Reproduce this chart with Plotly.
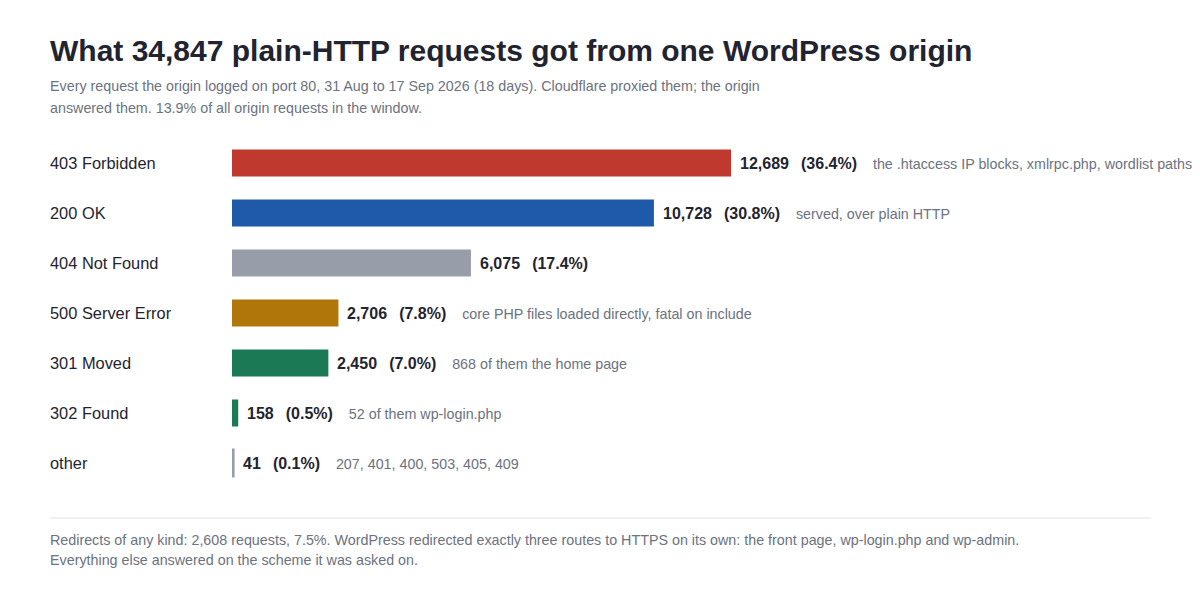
import plotly.graph_objects as go

categories = ["403 Forbidden", "200 OK", "404 Not Found", "500 Server Error",
              "301 Moved", "302 Found", "other"]
counts = [12689, 10728, 6075, 2706, 2450, 158, 41]
shares = ["36.4%", "30.8%", "17.4%", "7.8%", "7.0%", "0.5%", "0.1%"]
notes = ["the .htaccess IP blocks, xmlrpc.php, wordlist paths",
         "served, over plain HTTP",
         "",
         "core PHP files loaded directly, fatal on include",
         "868 of them the home page",
         "52 of them wp-login.php",
         "207, 401, 400, 503, 405, 409"]
colors = ["#c0392e", "#1f5aa8", "#979ea9", "#b0760a", "#1b7a55", "#1b7a55", "#979ea9"]

title = "What 34,847 plain-HTTP requests got from one WordPress origin"
subtitle1 = "Every request the origin logged on port 80, 31 Aug to 17 Sep 2026 (18 days). Cloudflare proxied them; the origin"
subtitle2 = "answered them. 13.9% of all origin requests in the window."
footer1 = "Redirects of any kind: 2,608 requests, 7.5%. WordPress redirected exactly three routes to HTTPS on its own: the front page, wp-login.php and wp-admin."
footer2 = "Everything else answered on the scheme it was asked on."

W, H = 1200, 600
OFF = 8  # page body margin
L, T = 232 - OFF, 138 - OFF
PW, PH = 958, 350
R = W - L - PW
B = H - T - PH
FONT = "Liberation Sans, Arial, sans-serif"
DARK = "#1f2430"
GREY = "#6b7280"

def px_x(x):
    return (x - OFF - L) / PW

def px_y(y):
    return (T + PH - (y - OFF)) / PH

line_w = [2 if c < 100 else 0 for c in counts]

fig = go.Figure(go.Bar(
    x=counts, y=categories, orientation="h",
    marker=dict(color=colors, line=dict(color=colors, width=line_w)),
    width=0.54, hoverinfo="skip",
))

ann = []
for cat, c, s, n in zip(categories, counts, shares, notes):
    txt = f"<b>{c:,}\u00a0\u00a0\u2009({s})</b>"
    if n:
        txt += f"<span style='font-size:14.3px;color:{GREY};font-weight:normal'>\u00a0\u00a0\u00a0\u00a0{n}</span>"
    ann.append(dict(x=c, y=cat, xref="x", yref="y", text=txt, showarrow=False,
                    xanchor="left", yanchor="middle", xshift=7,
                    font=dict(size=16, color=DARK, family=FONT)))
    ann.append(dict(x=px_x(48), y=cat, xref="paper", yref="y", text=cat,
                    showarrow=False, xanchor="left", yanchor="middle",
                    font=dict(size=16.4, color=DARK, family=FONT)))

ann += [
    dict(x=px_x(48), y=px_y(51), xref="paper", yref="paper", text=f"<b>{title}</b>",
         showarrow=False, xanchor="left", yanchor="middle",
         font=dict(size=30, color=DARK, family=FONT)),
    dict(x=px_x(48), y=px_y(86), xref="paper", yref="paper", text=subtitle1,
         showarrow=False, xanchor="left", yanchor="middle",
         font=dict(size=14.3, color=GREY, family=FONT)),
    dict(x=px_x(48), y=px_y(108), xref="paper", yref="paper", text=subtitle2,
         showarrow=False, xanchor="left", yanchor="middle",
         font=dict(size=14.3, color=GREY, family=FONT)),
    dict(x=px_x(48), y=px_y(540), xref="paper", yref="paper", text=footer1,
         showarrow=False, xanchor="left", yanchor="middle",
         font=dict(size=14.3, color=GREY, family=FONT)),
    dict(x=px_x(48), y=px_y(560), xref="paper", yref="paper", text=footer2,
         showarrow=False, xanchor="left", yanchor="middle",
         font=dict(size=14.3, color=GREY, family=FONT)),
]

fig.update_layout(
    width=W, height=H,
    margin=dict(l=L, r=R, t=T, b=B),
    paper_bgcolor="white", plot_bgcolor="white",
    showlegend=False,
    xaxis=dict(range=[0, PW / 0.03933], visible=False, fixedrange=True),
    yaxis=dict(categoryorder="array", categoryarray=categories, autorange=False,
               range=[len(categories) - 0.5, -0.5], visible=False, fixedrange=True),
    annotations=ann,
    shapes=[dict(type="line", xref="paper", yref="paper",
                 x0=px_x(50), x1=px_x(1151), y0=px_y(518), y1=px_y(518),
                 line=dict(color="#dde1e6", width=1))],
    font=dict(family=FONT),
)

fig.write_html("out.html", config={"displayModeBar": False})
